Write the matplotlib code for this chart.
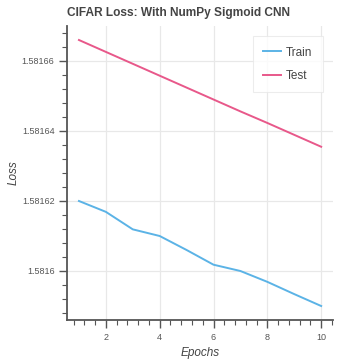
import numpy as np
import matplotlib.pyplot as plt
from matplotlib.ticker import MultipleLocator, FuncFormatter

plt.rcParams['font.family'] = ['Liberation Sans', 'DejaVu Sans']

# data
epochs = [1, 2, 3, 4, 5, 6, 7, 8, 9, 10]
train_loss = [1.58162, 1.5816169, 1.5816119, 1.58161, 1.581606, 1.5816018,
              1.5816, 1.5815969, 1.5815934, 1.58159]
test_loss = [1.581666, 1.5816626, 1.5816592, 1.5816558, 1.5816524, 1.581649,
             1.5816456, 1.5816423, 1.5816389, 1.5816355]

fig = plt.figure(figsize=(3.59, 3.59), dpi=100)
ax = fig.add_axes([67/359, 1 - 320/359, (333-67)/359, (320-26)/359])

ax.plot(epochs, train_loss, color='#5bb3e6', lw=1.4, label='Train')
ax.plot(epochs, test_loss, color='#e8588a', lw=1.4, label='Test')

ax.set_xlim(0.556, 10.44)
ax.set_ylim(1.581586, 1.58167)

ax.xaxis.set_major_locator(MultipleLocator(2))
ax.xaxis.set_minor_locator(MultipleLocator(0.4))
ax.yaxis.set_major_locator(MultipleLocator(0.00002))
ax.yaxis.set_minor_locator(MultipleLocator(0.000004))

def fmt(v, pos):
    s = '%.5f' % v
    return s.rstrip('0')
ax.yaxis.set_major_formatter(FuncFormatter(fmt))

ax.grid(True, which='major', color='#e8e8e8', lw=0.9)
ax.set_axisbelow(True)
for s in ['top', 'right']:
    ax.spines[s].set_visible(False)
for s in ['left', 'bottom']:
    ax.spines[s].set_color('#555555')
    ax.spines[s].set_linewidth(1.3)

ax.tick_params(which='major', length=6, width=1, color='#555555',
               labelsize=6.5, labelcolor='#555555', pad=3)
ax.tick_params(which='minor', length=3.5, width=0.8, color='#555555')

ax.set_xlabel('Epochs', fontsize=8.5, style='italic', color='#444444', labelpad=4)
ax.set_ylabel('Loss', fontsize=8.5, style='italic', color='#444444')
ax.yaxis.set_label_coords(-47/266, 0.5)

ax.set_title('CIFAR Loss: With NumPy Sigmoid CNN', fontsize=8.6, fontweight='bold',
             color='#444444', loc='left', pad=7)

leg = ax.legend(loc='upper right', bbox_to_anchor=(0.962, 0.966), fontsize=8.5,
                frameon=True, fancybox=False, borderpad=0.9, labelspacing=0.95,
                handlelength=1.45, handletextpad=0.45, borderaxespad=0)
leg.get_frame().set_edgecolor('#e8e8e8')
leg.get_frame().set_linewidth(0.8)
for t in leg.get_texts():
    t.set_color('#444444')

fig.savefig('out.png', dpi=100)
